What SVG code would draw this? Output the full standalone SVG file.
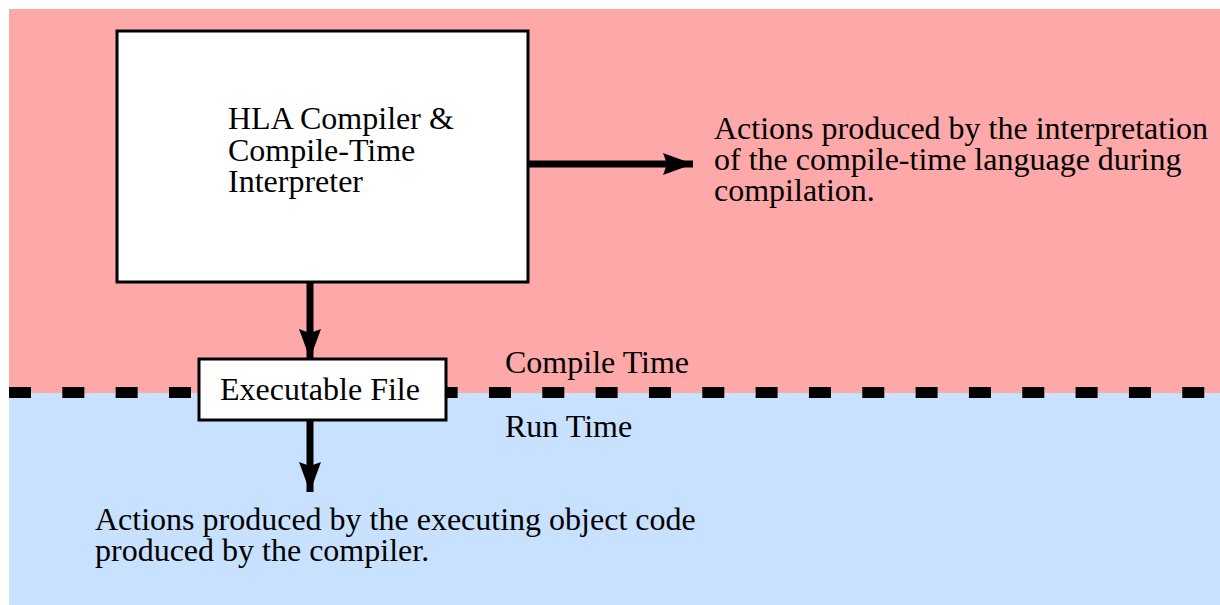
<svg xmlns="http://www.w3.org/2000/svg" width="1220" height="605" viewBox="0 0 1220 605">
<style>
.t{font-family:"Liberation Serif","Times New Roman",serif;font-size:32px;fill:#000}
.box{fill:#fff;stroke:#000;stroke-width:3}
.conn{stroke:#000;stroke-width:7;fill:none}
</style>
<defs>
<marker id="ah" markerUnits="userSpaceOnUse" markerWidth="30" markerHeight="22" refX="30" refY="11" orient="auto">
<path d="M0,0 L30,11 L0,22 L4,11 Z" fill="#000"/>
</marker>
</defs>
<rect width="1220" height="605" fill="#fff"/>
<g id="zones">
<rect x="9" y="9" width="1211" height="384" fill="#FEA8A9"/>
<rect x="9" y="393" width="1211" height="212" fill="#C7E1FE"/>
<line x1="9" y1="392.5" x2="1220" y2="392.5" stroke="#000" stroke-width="11" stroke-dasharray="22 31.33"/>
<text class="t" x="505" y="373">Compile Time</text>
<text class="t" x="505" y="437">Run Time</text>
</g>
<g id="connectors">
<line class="conn" x1="528" y1="164" x2="693" y2="164" marker-end="url(#ah)"/>
<line class="conn" x1="310" y1="282" x2="310" y2="359" marker-end="url(#ah)"/>
<line class="conn" x1="310" y1="420" x2="310" y2="492" marker-end="url(#ah)"/>
</g>
<g id="compiler">
<rect class="box" x="117" y="31" width="411" height="251"/>
<text class="t" x="228" y="129">HLA Compiler &amp;</text>
<text class="t" x="228" y="161">Compile-Time</text>
<text class="t" x="228" y="192">Interpreter</text>
</g>
<g id="executable">
<rect class="box" x="199" y="359" width="247" height="61"/>
<text class="t" x="220" y="400">Executable File</text>
</g>
<g id="compile-actions">
<text class="t" x="714" y="139">Actions produced by the interpretation</text>
<text class="t" x="714" y="170">of the compile-time language during</text>
<text class="t" x="714" y="201">compilation.</text>
</g>
<g id="run-actions">
<text class="t" x="95" y="530">Actions produced by the executing object code</text>
<text class="t" x="95" y="561">produced by the compiler.</text>
</g>
</svg>
